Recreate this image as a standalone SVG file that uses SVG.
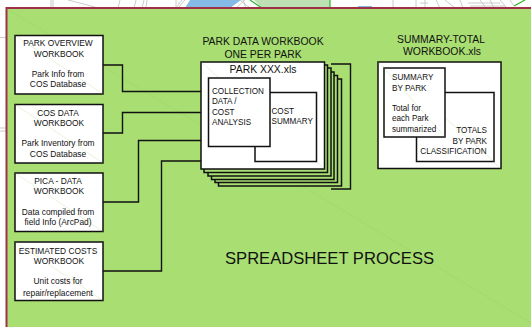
<svg xmlns="http://www.w3.org/2000/svg" width="531" height="327" viewBox="0 0 531 327">
<style>
text{font-family:"Liberation Sans",Arial,sans-serif;fill:#111}
.s{font-size:8.400px}
.n{font-size:8.150px}
.m{text-anchor:middle}
.e{text-anchor:end}
.t{font-size:10.400px}
.b{fill:#fff;stroke:#111;stroke-width:1.5}
.l{fill:#a8de72;stroke:#111;stroke-width:1.5}
.c{fill:none;stroke:#111;stroke-width:1.4}
.d{stroke:#98c860;stroke-width:.5;stroke-opacity:.45;fill:none}
.g{fill:none;stroke:#c4c4c4;stroke-width:.9}
</style>
<rect width="531" height="327" fill="#fff"/>
<g id="map">
<polygon points="262,0 330,0 330,8 262,8" fill="#bde0b4"/>
<polygon points="254,0 262,0 262,8" fill="#bde0b4"/>
<polygon points="190,0 241,0 230,8 185,8" fill="#85b9e6"/>
<rect x="358" y="6" width="14" height="2" fill="#85b9e6"/>
<path d="M330,0V8M250,0L262,8M514,6L525,0" fill="none" stroke="#2fb52f" stroke-width="1.2"/>
<path class="g" d="M51,0V8M53,0V8M68,0L95,7M120,0L118,8M136,0L134,8M144,0L142,8M147,0L146,7M176,0L176,8M178,3h1M182,0L176,8M185,0L178,8M240,0L250,8M243,0L246,8M236,8L245,0M0,37.500H6M0,128H6M0,131H6M393,0V8M416,0V8M420,3H428M425,0V7M436,0L440,8M445,0L455,8M460,0L463,8M468,3H500M470,6H505M480,0L486,8M490,0L494,8M500,0L507,8M510,0L514,6"/>
</g>
<rect x="6.500" y="8" width="530" height="325" fill="#a8de72" stroke="#a03048" stroke-width="2"/>
<path class="d" d="M7,9L531,323"/>
<g id="connectors">
<path class="c" d="M103,65H122.500V91.500H201M103,133H122.500V112.500H201M103,202H138.500V140.500H201M103,271H161.500V161H201"/>
</g>
<g id="park-overview">
<rect class="b" x="15" y="35.500" width="88" height="58.500"/><path class="d" d="M15,35.500L103,94"/>
<text class="s m" x="58" y="46">PARK OVERVIEW</text><text class="s m" x="59" y="57">WORKBOOK</text>
<text class="s m" x="58" y="77">Park Info from</text><text class="s m" x="58" y="87">COS Database</text>
</g>
<g id="cos-data">
<rect class="b" x="15" y="104.500" width="88" height="58.500"/><path class="d" d="M15,104.500L103,163"/>
<text class="s m" x="58" y="115.500">COS DATA</text><text class="s m" x="59" y="126">WORKBOOK</text>
<text class="s m" x="58" y="146">Park Inventory from</text><text class="s m" x="58" y="157">COS Database</text>
</g>
<g id="pica-data">
<rect class="b" x="15" y="173" width="88" height="58.500"/><path class="d" d="M15,173L103,231.500"/>
<text class="s m" x="58" y="184">PICA - DATA</text><text class="s m" x="59" y="194">WORKBOOK</text>
<text class="s m" x="58" y="215">Data compiled from</text><text class="s m" x="58" y="225">field Info (ArcPad)</text>
</g>
<g id="estimated-costs">
<rect class="b" x="15" y="242" width="88" height="58.500"/><path class="d" d="M15,242L103,300.500"/>
<text class="s m" x="58" y="254">ESTIMATED COSTS</text><text class="s m" x="59" y="264">WORKBOOK</text>
<text class="s m" x="58" y="284">Unit costs for</text><text class="s m" x="58" y="296">repair/replacement</text>
</g>
<g id="park-data">
<text class="t m" x="263" y="45">PARK DATA WORKBOOK</text><text class="t m" x="263" y="57.500">ONE PER PARK</text>
<path class="c" d="M331,64H350.500V189H331"/>
<rect class="l" x="218.500" y="79" width="123" height="107"/>
<rect class="l" x="215" y="75.500" width="122.500" height="107"/>
<rect class="l" x="211.500" y="72" width="122.500" height="107.500"/>
<rect class="l" x="208" y="68" width="123" height="108"/>
<rect class="l" x="204" y="65" width="123.500" height="107.500"/>
<rect class="b" x="201" y="62" width="123.500" height="107"/>
<path class="d" d="M201,62L324.500,169"/>
<text class="t m" x="263" y="73">PARK XXX.xls</text>
<rect class="b" x="255" y="92.500" width="61.500" height="69"/>
<text class="n" x="271.500" y="113.500">COST</text><text class="n" x="271.500" y="124">SUMMARY</text>
<rect class="b" x="208.500" y="78" width="61.500" height="68.500"/>
<text class="n" x="212" y="94">COLLECTION</text><text class="n" x="212" y="104">DATA /</text><text class="n" x="212" y="114.500">COST</text><text class="n" x="212" y="125">ANALYSIS</text>
</g>
<g id="summary-total">
<text class="t m" x="441" y="43">SUMMARY-TOTAL</text><text class="t m" x="442" y="55">WORKBOOK.xls</text>
<rect class="b" x="378" y="62" width="123" height="106.500"/><path class="d" d="M378,62L501,168.500"/>
<rect class="b" x="416.500" y="92.500" width="77.500" height="69"/><path class="d" d="M416.500,92.500L494,161.500"/>
<text class="n e" x="487" y="133">TOTALS</text><text class="n e" x="487" y="144">BY PARK</text><text class="n e" x="486.500" y="154">CLASSIFICATION</text>
<rect class="b" x="384" y="68" width="61" height="69"/><path class="d" d="M384,68L445,137"/>
<text class="n" x="392" y="80">SUMMARY</text><text class="n" x="392" y="90.500">BY PARK</text>
<text class="n" x="392" y="111">Total for</text><text class="n" x="392" y="121">each Park</text><text class="n" x="392" y="131.500">summarized</text>
</g>
<text id="title" x="225" y="264" font-size="16.600px">SPREADSHEET PROCESS</text>
</svg>
